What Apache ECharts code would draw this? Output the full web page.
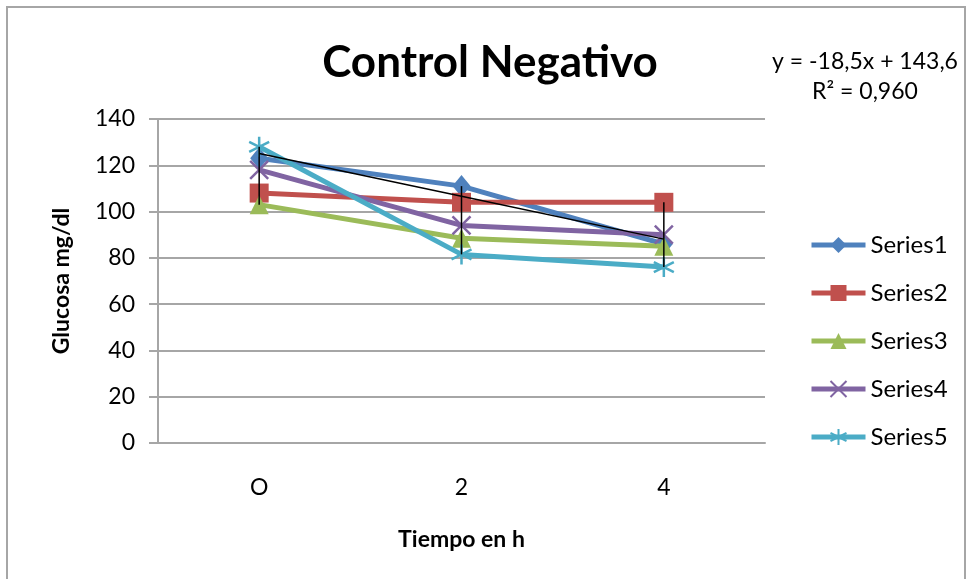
<!DOCTYPE html>
<html>
<head>
<meta charset="utf-8">
<script src="https://cdn.jsdelivr.net/npm/echarts@6/dist/echarts.min.js"></script>
<style>
  html, body { margin: 0; padding: 0; background: #fff; }
  #chart { width: 968px; height: 579px; }
</style>
</head>
<body>
<div id="chart"></div>
<script>
// Sampling times (h) and glucose readings (mg/dl) per subject
const categories = ['O', '2', '4'];
const series1 = [123, 111, 86];
const series2 = [108, 104, 104];
const series3 = [103, 88.5, 85];
const series4 = [118, 94, 90];
const series5 = [128, 81.5, 76];
const seriesNames = ['Series1', 'Series2', 'Series3', 'Series4', 'Series5'];
const yTicks = [0, 20, 40, 60, 80, 100, 120, 140];

// Linear trend fitted on Series1 (x = 1, 2, 3)
const trendSlope = -18.5;
const trendIntercept = 143.6;
const trendR2 = 0.960;

const colors = ['#4F81BD', '#C0504D', '#9BBB59', '#8064A2', '#4BACC6'];
const symbols = [
  'diamond',
  'rect',
  'triangle',
  'path://M0,0L10,10M10,0L0,10',
  'path://M5,0L5,10M0,2.5L10,7.5M0,7.5L10,2.5'
];
const symbolSizes = [[18, 22], 19, 19, 18, 20];
const allSeries = [series1, series2, series3, series4, series5];

const fmt = (v, d) => v.toFixed(d).replace('.', ',');
const trendData = categories.map((_, i) => +(trendSlope * (i + 1) + trendIntercept).toFixed(2));
const hiLo = categories.map((_, i) => {
  const vals = allSeries.map(s => s[i]);
  return [i, Math.min.apply(null, vals), Math.max.apply(null, vals)];
});

const FONT = 'Lato, "Open Sans", sans-serif';

const lineSeries = allSeries.map((data, k) => ({
  name: seriesNames[k],
  type: 'line',
  data: data,
  symbol: symbols[k],
  symbolSize: symbolSizes[k],
  showAllSymbol: true,
  lineStyle: { color: colors[k], width: 5 },
  itemStyle: {
    color: colors[k],
    borderColor: colors[k],
    borderWidth: k >= 3 ? 2.5 : 0
  },
  emphasis: { disabled: true },
  z: 2 + k
}));

const chart = echarts.init(document.getElementById('chart'), null, { renderer: 'canvas' });
chart.setOption({
  animation: false,
  backgroundColor: '#fff',
  textStyle: { fontFamily: FONT },
  title: {
    text: 'Control Negativo',
    left: 485,
    top: 36,
    textAlign: 'center',
    textStyle: { fontFamily: FONT, fontWeight: 'bold', fontSize: 44, color: '#000' }
  },
  graphic: [
    {
      type: 'rect',
      shape: { x: 7, y: 7, width: 958, height: 600 },
      style: { fill: 'none', stroke: '#a6a6a6', lineWidth: 2 },
      silent: true,
      z: -10
    },
    {
      type: 'text',
      x: 865,
      y: 62,
      style: {
        text: 'y = ' + fmt(trendSlope, 1) + 'x + ' + fmt(trendIntercept, 1),
        font: '23px ' + FONT,
        fill: '#000',
        align: 'center',
        verticalAlign: 'middle'
      }
    },
    {
      type: 'text',
      x: 865,
      y: 92,
      style: {
        text: 'R² = ' + fmt(trendR2, 3),
        font: '23px ' + FONT,
        fill: '#000',
        align: 'center',
        verticalAlign: 'middle'
      }
    }
  ],
  legend: {
    orient: 'vertical',
    left: 804,
    top: 228,
    itemGap: 24,
    itemWidth: 54,
    itemHeight: 20,
    data: seriesNames,
    lineStyle: { width: 5 },
    textStyle: { fontFamily: FONT, fontSize: 24, lineHeight: 20, color: '#000' }
  },
  grid: { left: 158, right: 203, top: 119, bottom: 136 },
  xAxis: {
    type: 'category',
    data: categories,
    boundaryGap: true,
    name: 'Tiempo en h',
    nameLocation: 'middle',
    nameGap: 85,
    nameTextStyle: { fontFamily: FONT, fontWeight: 'bold', fontSize: 23, color: '#000' },
    axisLine: { lineStyle: { color: '#a6a6a6', width: 2 } },
    axisTick: { show: false },
    axisLabel: { margin: 33, fontSize: 23, color: '#000', fontFamily: FONT }
  },
  yAxis: {
    type: 'value',
    min: yTicks[0],
    max: yTicks[yTicks.length - 1],
    interval: yTicks[1] - yTicks[0],
    name: 'Glucosa mg/dl',
    nameLocation: 'middle',
    nameGap: 85,
    nameTextStyle: { fontFamily: FONT, fontWeight: 'bold', fontSize: 23, color: '#000' },
    axisLine: { show: true, lineStyle: { color: '#a6a6a6', width: 2 } },
    axisTick: { show: true, length: 9, lineStyle: { color: '#a6a6a6', width: 2 } },
    splitLine: { lineStyle: { color: '#a6a6a6', width: 2 } },
    axisLabel: { margin: 23, fontSize: 23, color: '#000', fontFamily: FONT }
  },
  series: lineSeries.concat([
    {
      name: 'Linear (Series1)',
      type: 'line',
      data: trendData,
      symbol: 'none',
      lineStyle: { color: '#000', width: 1.5 },
      emphasis: { disabled: true },
      z: 20
    },
    {
      name: 'High-Low',
      type: 'custom',
      data: hiLo,
      encode: { x: 0, y: [1, 2] },
      z: 21,
      renderItem: function (params, api) {
        const lo = api.coord([api.value(0), api.value(1)]);
        const hi = api.coord([api.value(0), api.value(2)]);
        return {
          type: 'line',
          shape: { x1: lo[0], y1: lo[1], x2: hi[0], y2: hi[1] },
          style: { stroke: '#000', lineWidth: 1.5 }
        };
      }
    }
  ])
});
</script>
</body>
</html>
